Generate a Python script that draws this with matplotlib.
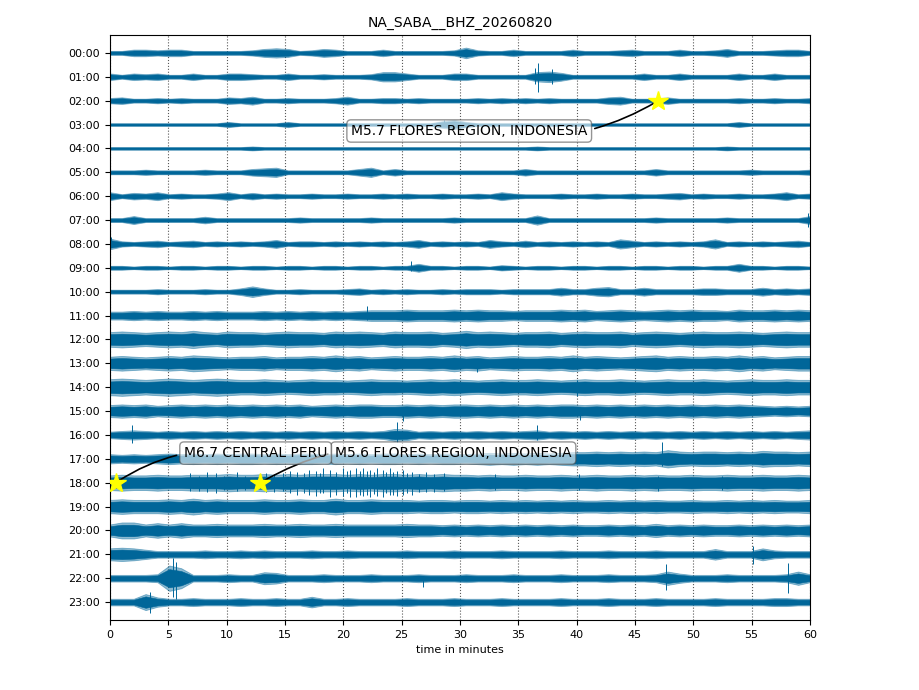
import matplotlib
matplotlib.use("Agg")
import matplotlib.pyplot as plt
import numpy as np

# hour rows of the day plot
hours = ["%02d:00" % h for h in range(24)]

# envelope of each hour, one char per minute (base 36, unit = 0.02 row spacing)
envelopes = [
    "335545533333467634653335333334843353333533345333533463334553",
    "535453353355433533433347753335533333786333333533533335335333",
    "453343433354633433346334434333343434343333563335333334334334",
    "222222222242222422222222222257422222222222222222222224222222",
    "222222222222322222222222222222222222322222222222222232222222",
    "333433334333" "567333333573" "533333333335" "333333333353" "333333433334",
    "635463433463" "534334334334" "343343343643" "334334334334" "534334334634",
    "336333335333" "333343333343" "333334333333" "733333333343" "333343333336",
    "843453453434" "346344343434" "346343436435" "343434375343" "434734343453",
    "332332332332" "332332332332" "336332332432" "332332332332" "332336332332",
    "333343334335" "853343334534" "343343444344" "446446744644" "445544464545",
    "667676676766" "676767676788" "898889898878" "889897898789" "898879889898",
    "bcbabcbdbacb" "babcbbacbcba" "cbbcabdbcbab" "bcabcbbcabcb" "abcbbcbabcbb",
    "aba9abacba9a" "ab9aabacab9a" "baabacab9aba" "abacaba9abca" "baabacab9abb",
    "cdcbcdcbcdcb" "bcbabcbbabcb" "babcbcbabcbb" "cbabcbbcbabc" "bbcbabcbbcbb",
    "9a9a89a9a9a9" "a9a9a89a9aa9" "9a9a9aa9a9a9" "a9aa9a9a9a9a" "9a9a9a987878",
    "567656565656" "565656565656" "985656565656" "756565656565" "656565656567",
    "767678787878" "878788787878" "878788789898" "989aabababad" "babbabacbbab",
    "bcbbcbbcccdc" "cdcdcdddcdcd" "dcdcdccbcbbc" "bbcbbcbbcbcb" "bcbbcbbcbbcb",
    "abaaabacabaa" "abaabaacaaba" "aa9aa9aa9a9a" "9a9a99a9a9a9" "9a99a9a9a99a",
    "9cc9b9b99a99" "9a99a99a9999" "9a9989898989" "8989889898a8" "989889898989",
    "9a9755556556" "565556556555" "565556555655" "556555655565" "555855596555",
    "55556jf55565" "598555655565" "556555655565" "55655565556a" "7555655556a6",
    "555c75565556" "556558556555" "565556555655" "556555655565" "555655556655",
]

# single large swings: (hour row, minute, up, down) in row spacings
spikes = [
    (1, 36.4, 0.35, 0.30), (1, 36.7, 0.58, 0.62), (1, 37.9, 0.33, 0.30),
    (3, 28.6, 0.20, 0.05), (7, 59.8, 0.30, 0.30), (8, 0.1, 0.30, 0.10),
    (9, 25.8, 0.30, 0.15),
    (11, 22.0, 0.40, 0.20), (13, 31.5, 0.15, 0.35), (14, 40.0, 0.30, 0.35),
    (15, 25.1, 0.15, 0.40), (15, 40.3, 0.15, 0.38),
    (16, 1.9, 0.40, 0.35), (16, 24.6, 0.55, 0.30), (16, 36.6, 0.40, 0.20),
    (17, 47.3, 0.70, 0.30),
    (18, 6.9, 0.40, 0.35), (18, 7.6, 0.30, 0.35), (18, 8.3, 0.45, 0.40),
    (18, 9.1, 0.40, 0.45), (18, 9.8, 0.30, 0.30), (18, 10.9, 0.45, 0.35),
    (18, 11.6, 0.30, 0.32), (18, 13.4, 0.40, 0.40), (18, 14.1, 0.35, 0.38),
    (18, 14.8, 0.42, 0.35), (18, 15.4, 0.50, 0.45), (18, 16.0, 0.45, 0.50),
    (18, 16.6, 0.40, 0.42), (18, 17.1, 0.55, 0.50), (18, 17.7, 0.50, 0.55),
    (18, 18.0, 0.40, 0.45), (18, 18.3, 0.60, 0.45), (18, 18.9, 0.55, 0.60),
    (18, 19.4, 0.45, 0.50), (18, 20.0, 0.60, 0.55), (18, 20.3, 0.50, 0.45),
    (18, 20.6, 0.55, 0.60), (18, 21.1, 0.60, 0.60), (18, 21.4, 0.50, 0.50),
    (18, 21.7, 0.60, 0.55), (18, 22.0, 0.48, 0.52), (18, 22.3, 0.55, 0.60),
    (18, 22.6, 0.45, 0.48), (18, 22.9, 0.60, 0.55), (18, 23.4, 0.55, 0.60),
    (18, 23.7, 0.45, 0.45), (18, 24.0, 0.60, 0.50), (18, 24.3, 0.45, 0.50),
    (18, 24.6, 0.50, 0.55), (18, 25.1, 0.55, 0.50), (18, 25.5, 0.40, 0.45),
    (18, 25.9, 0.45, 0.50), (18, 26.5, 0.38, 0.40), (18, 27.1, 0.45, 0.40),
    (18, 27.8, 0.35, 0.38), (18, 28.6, 0.40, 0.35),
    (18, 33.0, 0.35, 0.30), (18, 40.2, 0.35, 0.30), (18, 47.0, 0.30, 0.35),
    (18, 52.5, 0.30, 0.30),
    (21, 55.1, 0.35, 0.40),
    (22, 5.4, 0.84, 0.80), (22, 5.7, 0.70, 0.85), (22, 26.8, 0.10, 0.35),
    (22, 47.7, 0.60, 0.50), (22, 58.1, 0.62, 0.60),
    (23, 3.4, 0.42, 0.45),
]

# catalogue events
event_labels = ["M5.7 FLORES REGION, INDONESIA", "M5.6 FLORES REGION, INDONESIA",
                "M6.7 CENTRAL PERU"]
event_rows = [2, 18, 18]
event_minutes = [47.0, 12.9, 0.5]
label_pos = [(20.66, -3.27), (19.3, -16.76), (6.34, -16.76)]

c = "#006699"
fig = plt.figure(figsize=(9.2, 6.9), dpi=100)
ax = fig.add_axes([110 / 920, 70 / 690, 700 / 920, 585 / 690])

for i, s in enumerate(envelopes):
    env = np.array([int(ch, 36) for ch in s]) * 0.02
    x = np.linspace(0, 60, len(env))
    ax.fill_between(x, -i - env * 1.4, -i + env * 1.4, color=c, alpha=0.45, lw=0.6)
    ax.fill_between(x, -i - env, -i + env, color=c, lw=0.4)

for row, m, up, down in spikes:
    ax.vlines(m, -row - down, -row + up, color=c, lw=0.7)

for lab, r, m, pos in zip(event_labels, event_rows, event_minutes, label_pos):
    ax.annotate(lab, xy=(m, -r), xytext=pos, ha="left", va="center", fontsize=10,
                bbox=dict(boxstyle="round", fc="w", ec="0.3", alpha=0.6),
                arrowprops=dict(arrowstyle="-", connectionstyle="arc3,rad=0.2",
                                color="k", lw=1.2),
                zorder=10)
    ax.plot(m, -r, "*", color="yellow", markersize=15, zorder=11)

ax.set_xlim(0, 60)
ax.set_ylim(-23.75, 0.75)
ax.set_xticks(range(0, 61, 5))
ax.set_yticks(-np.arange(24))
ax.set_yticklabels(hours)
ax.tick_params(labelsize=8)
ax.xaxis.grid(True, ls=":", color="0.35", lw=0.8)
ax.set_axisbelow(True)
ax.set_xlabel("time in minutes", fontsize=8)
ax.set_title("NA_SABA__BHZ_20260820", fontsize=10)

fig.savefig("out.png", dpi=100)
